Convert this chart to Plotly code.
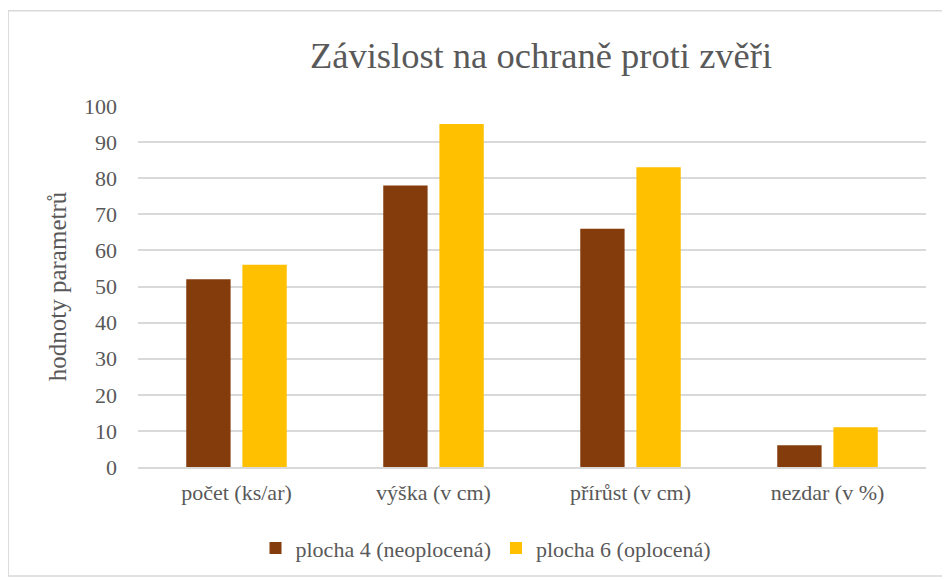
import plotly.graph_objects as go

categories = ["počet (ks/ar)", "výška (v cm)", "přírůst (v cm)", "nezdar (v %)"]
plocha4 = [52, 78, 66, 6]
plocha6 = [56, 95, 83, 11]
y_ticks = [0, 10, 20, 30, 40, 50, 60, 70, 80, 90, 100]

SERIF = "Liberation Serif"
TEXT = "#595959"

# the page body adds an 8px margin, so the figure is drawn 8px smaller and shifted
W, H = 942, 573
L, R, T, B = 130, 24, 98, 111
PW, PH = W - L - R, H - T - B

fig = go.Figure()
fig.add_trace(go.Bar(x=categories, y=plocha4, name="plocha 4 (neoplocená)",
                     marker=dict(color="#843C0C", line=dict(width=0))))
fig.add_trace(go.Bar(x=categories, y=plocha6, name="plocha 6 (oplocená)",
                     marker=dict(color="#FFC000", line=dict(width=0))))

fig.update_layout(
    width=W, height=H,
    margin=dict(l=L, r=R, t=T, b=B),
    plot_bgcolor="white", paper_bgcolor="white",
    font=dict(family=SERIF, color=TEXT, size=22),
    title=dict(text="Závislost na ochraně proti zvěři", x=(541 - 8) / W, xanchor="center",
               y=1 - (55 - 8) / H, yanchor="middle", font=dict(size=36.5, color=TEXT, family=SERIF)),
    barmode="group", bargap=0.43, bargroupgap=0.21,
    showlegend=True,
    legend=dict(orientation="h", x=(486 - 8 - L) / PW, xanchor="center",
                y=-(552 - 8 - T - PH) / PH, yanchor="middle",
                font=dict(size=22, color=TEXT, family=SERIF), itemwidth=30, traceorder="normal"),
)

fig.update_xaxes(showline=True, linecolor="#D9D9D9", linewidth=1.5, ticks="",
                 tickfont=dict(size=22, color=TEXT, family=SERIF), showgrid=False,
                 ticklabelstandoff=5)
fig.update_yaxes(range=[0, 100], tickvals=y_ticks, showgrid=True, gridcolor="#D9D9D9",
                 gridwidth=1.5, zeroline=False, showline=False, ticks="",
                 tickfont=dict(size=22, color=TEXT, family=SERIF), ticklabelstandoff=20,
                 title=dict(text="hodnoty parametrů", font=dict(size=25, color=TEXT, family=SERIF),
                            standoff=10))

# outer chart border
fig.add_shape(type="rect", xref="paper", yref="paper",
              x0=(5 - 8 - L) / PW + 0.004, x1=(949 - 8 - L) / PW,
              y0=-(580 - 8 - T - PH) / PH, y1=1 + (T - 2) / PH,
              line=dict(color="#D9D9D9", width=1.5), layer="below")

fig.write_html("out.html")
